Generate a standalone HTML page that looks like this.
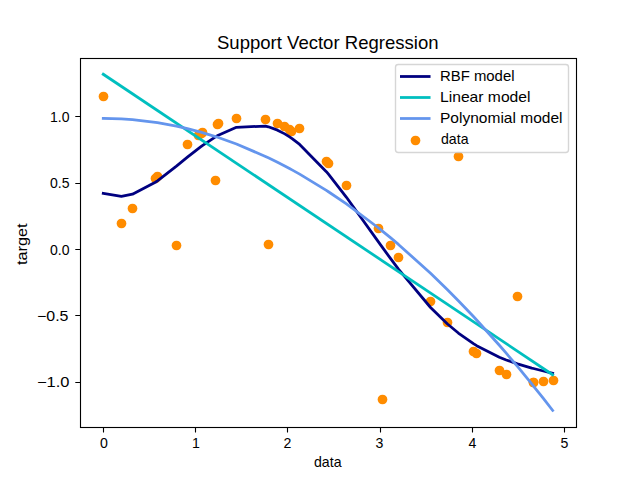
<!DOCTYPE html>
<html><head><meta charset="utf-8"><title>Support Vector Regression</title>
<style>
html,body{margin:0;padding:0;background:#fff;}
body{width:640px;height:480px;overflow:hidden;}
svg{display:block;}
text{font-family:"Liberation Sans",sans-serif;fill:#000;}
</style></head><body>
<svg width="640" height="480" viewBox="0 0 640 480">
<rect x="0" y="0" width="640" height="480" fill="#fff"/>

<g fill="#ff8c00">
<circle cx="103.5" cy="96.5" r="4.86"/>
<circle cx="121.5" cy="223.5" r="4.86"/>
<circle cx="132.5" cy="208.5" r="4.86"/>
<circle cx="155.5" cy="178.5" r="4.86"/>
<circle cx="157.5" cy="176.5" r="4.86"/>
<circle cx="176.5" cy="245.5" r="4.86"/>
<circle cx="187.5" cy="144.5" r="4.86"/>
<circle cx="198.5" cy="135.5" r="4.86"/>
<circle cx="201.5" cy="133.5" r="4.86"/>
<circle cx="202.5" cy="132.5" r="4.86"/>
<circle cx="215.5" cy="180.5" r="4.86"/>
<circle cx="217.5" cy="124.5" r="4.86"/>
<circle cx="218.5" cy="123.5" r="4.86"/>
<circle cx="236.5" cy="118.5" r="4.86"/>
<circle cx="265.5" cy="119.5" r="4.86"/>
<circle cx="268.5" cy="244.5" r="4.86"/>
<circle cx="277.5" cy="123.5" r="4.86"/>
<circle cx="284.5" cy="126.5" r="4.86"/>
<circle cx="289.5" cy="129.5" r="4.86"/>
<circle cx="291.5" cy="131.5" r="4.86"/>
<circle cx="299.5" cy="128.5" r="4.86"/>
<circle cx="326.5" cy="161.5" r="4.86"/>
<circle cx="328.5" cy="163.5" r="4.86"/>
<circle cx="346.5" cy="185.5" r="4.86"/>
<circle cx="378.5" cy="228.5" r="4.86"/>
<circle cx="382.5" cy="399.5" r="4.86"/>
<circle cx="390.5" cy="245.5" r="4.86"/>
<circle cx="398.5" cy="257.5" r="4.86"/>
<circle cx="430.5" cy="301.5" r="4.86"/>
<circle cx="447.5" cy="322.5" r="4.86"/>
<circle cx="458.5" cy="156.5" r="4.86"/>
<circle cx="473.5" cy="351.5" r="4.86"/>
<circle cx="476.5" cy="353.5" r="4.86"/>
<circle cx="499.5" cy="370.5" r="4.86"/>
<circle cx="506.5" cy="374.5" r="4.86"/>
<circle cx="517.5" cy="296.5" r="4.86"/>
<circle cx="533.5" cy="382.5" r="4.86"/>
<circle cx="533.5" cy="382.5" r="4.86"/>
<circle cx="543.5" cy="381.5" r="4.86"/>
<circle cx="553.5" cy="380.5" r="4.86"/>
</g>
<polyline points="103.27,193.43 121.39,196.46 132.45,194.21 155.35,182.26 157.45,180.80 176.45,166.14 187.41,157.20 199.65,147.60 200.95,146.63 202.35,145.60 215.45,136.84 217.45,135.67 218.35,135.16 236.45,127.27 265.45,126.07 268.35,126.81 277.50,130.15 284.75,133.88 289.95,137.14 292.45,138.87 299.65,144.44 326.35,171.70 328.45,174.21 346.45,197.31 378.25,241.60 382.40,247.38 390.45,258.44 398.45,269.13 430.55,307.50 447.50,323.98 458.35,333.02 473.45,343.66 476.65,345.64 499.35,357.20 506.20,359.95 517.45,363.88 531.75,368.06 533.45,368.51 543.35,371.01 552.64,373.23" fill="none" stroke="#000080" stroke-width="2.778" stroke-linecap="square" stroke-linejoin="round"/>
<polyline points="103.27,74.25 552.64,374.70" fill="none" stroke="#00bfbf" stroke-width="2.778" stroke-linecap="square" stroke-linejoin="round"/>
<polyline points="103.27,118.31 121.39,118.79 132.45,119.56 155.35,122.26 157.45,122.58 176.45,126.09 187.41,128.59 199.65,131.79 200.95,132.16 202.35,132.56 215.45,136.56 217.45,137.22 218.35,137.52 236.45,144.02 265.45,156.42 268.35,157.79 277.50,162.29 284.75,166.02 289.95,168.79 292.45,170.15 299.65,174.16 326.35,190.36 328.45,191.73 346.45,203.92 378.25,227.75 382.40,231.08 390.45,237.67 398.45,244.41 430.55,273.30 447.50,289.76 458.35,300.74 473.45,316.57 476.65,320.01 499.35,345.27 506.20,353.18 517.45,366.47 531.75,383.90 533.45,386.01 543.35,398.46 552.64,410.41" fill="none" stroke="#6495ed" stroke-width="2.778" stroke-linecap="square" stroke-linejoin="round"/>
<rect x="80.5" y="58.5" width="496" height="369" fill="none" stroke="#000" stroke-width="1.111" stroke-linejoin="miter"/>
<path d="M103.5 427.5V432.4 M195.5 427.5V432.4 M287.5 427.5V432.4 M380.5 427.5V432.4 M472.5 427.5V432.4 M564.5 427.5V432.4 M80 116.5H75.3 M80 183.5H75.3 M80 249.5H75.3 M80 315.5H75.3 M80 382.5H75.3" stroke="#000" stroke-width="1.111" fill="none"/>
<rect x="395.5" y="64.5" width="173" height="88" rx="2.78" ry="2.78" fill="#fff" fill-opacity="0.8" stroke="#ccc" stroke-opacity="0.8" stroke-width="1.389"/>
<line x1="401.36" y1="76.5" x2="429.14" y2="76.5" stroke="#000080" stroke-width="2.778" stroke-linecap="square"/>
<line x1="401.36" y1="97.5" x2="429.14" y2="97.5" stroke="#00bfbf" stroke-width="2.778" stroke-linecap="square"/>
<line x1="401.36" y1="118.5" x2="429.14" y2="118.5" stroke="#6495ed" stroke-width="2.778" stroke-linecap="square"/>
<circle cx="415.5" cy="140.5" r="4.86" fill="#ff8c00"/>
<text x="217.00" y="49.00" font-size="18.33" textLength="221.50" lengthAdjust="spacingAndGlyphs">Support Vector Regression</text>
<text x="314.00" y="467.00" font-size="14.14" textLength="27.50" lengthAdjust="spacingAndGlyphs">data</text>
<text x="27.00" y="265.00" font-size="14.14" textLength="41.50" lengthAdjust="spacingAndGlyphs" transform="rotate(-90 27.00 265.00)">target</text>
<text x="100.00" y="448.00" font-size="14.14">0</text>
<text x="192.00" y="448.00" font-size="14.14">1</text>
<text x="283.50" y="448.00" font-size="14.14">2</text>
<text x="375.50" y="448.00" font-size="14.14">3</text>
<text x="468.50" y="448.00" font-size="14.14">4</text>
<text x="560.50" y="448.00" font-size="14.14">5</text>
<text x="50.00" y="122.00" font-size="14.14" textLength="19.50" lengthAdjust="spacingAndGlyphs">1.0</text>
<text x="50.00" y="188.00" font-size="14.14" textLength="19.50" lengthAdjust="spacingAndGlyphs">0.5</text>
<text x="50.00" y="255.00" font-size="14.14" textLength="19.50" lengthAdjust="spacingAndGlyphs">0.0</text>
<text x="37.00" y="321.00" font-size="14.14" textLength="31.50" lengthAdjust="spacingAndGlyphs">−0.5</text>
<text x="37.00" y="387.00" font-size="14.14" textLength="32.50" lengthAdjust="spacingAndGlyphs">−1.0</text>
<text x="440.00" y="81.00" font-size="14.14" textLength="74.50" lengthAdjust="spacingAndGlyphs">RBF model</text>
<text x="440.00" y="102.00" font-size="14.14" textLength="90.50" lengthAdjust="spacingAndGlyphs">Linear model</text>
<text x="440.00" y="123.00" font-size="14.14" textLength="122.50" lengthAdjust="spacingAndGlyphs">Polynomial model</text>
<text x="441.00" y="144.00" font-size="14.14" textLength="27.50" lengthAdjust="spacingAndGlyphs">data</text>
</svg>
</body></html>
